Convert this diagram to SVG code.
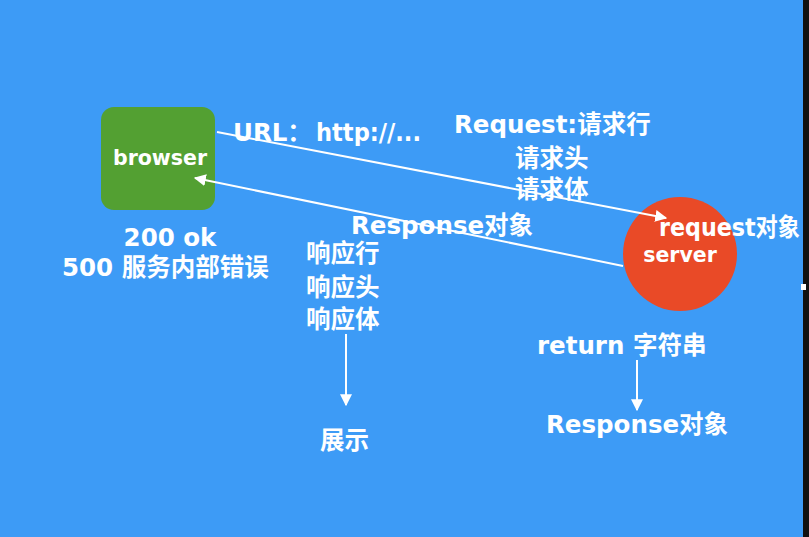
<svg xmlns="http://www.w3.org/2000/svg" width="809" height="537" viewBox="0 0 809 537">
<style>
.t{font-family:"DejaVu Sans","Noto Sans CJK SC",sans-serif;font-weight:bold;fill:#ffffff;font-size:24.5px}
.c{stroke:#ffffff;stroke-width:2;fill:none}
</style>
<defs>
<marker id="ah" viewBox="0 0 10 10" refX="9" refY="5" markerWidth="6" markerHeight="6" orient="auto" markerUnits="strokeWidth">
<path d="M0,0 L10,5 L0,10 z" fill="#ffffff"/>
</marker>
</defs>
<rect width="809" height="537" fill="#3d9bf6"/>
<rect x="803" y="0" width="6" height="537" fill="#111111"/>
<rect x="801" y="284" width="5" height="6" fill="#ffffff"/>
<g id="browser">
<rect x="101" y="107" width="114" height="103" rx="13" fill="#53a032"/>
<text class="t" x="160" y="165" text-anchor="middle" style="font-size:20.5px">browser</text>
</g>
<g id="server">
<circle cx="680" cy="254" r="57" fill="#e94a27"/>
<text class="t" x="680" y="262" text-anchor="middle" style="font-size:20.5px">server</text>
</g>
<g id="connectors">
<line class="c" x1="217" y1="132" x2="666" y2="218" marker-end="url(#ah)"/>
<line class="c" x1="623" y1="266" x2="195" y2="178" marker-end="url(#ah)"/>
<line class="c" x1="346" y1="334" x2="346" y2="405" marker-end="url(#ah)"/>
<line class="c" x1="637" y1="360" x2="637" y2="410" marker-end="url(#ah)"/>
</g>
<g id="labels">
<text class="t" x="233" y="141">URL：</text>
<text class="t" x="316" y="141" textLength="105" lengthAdjust="spacingAndGlyphs">http://...</text>
<text class="t" x="454" y="133">Request:请求行</text>
<text class="t" x="515" y="167">请求头</text>
<text class="t" x="515" y="198">请求体</text>
<text class="t" x="351" y="234">Response对象</text>
<text class="t" x="659" y="236" textLength="141" lengthAdjust="spacingAndGlyphs">request对象</text>
<text class="t" x="170" y="246" text-anchor="middle">200 ok</text>
<text class="t" x="62" y="276">500 服务内部错误</text>
<text class="t" x="306" y="262">响应行</text>
<text class="t" x="306" y="296">响应头</text>
<text class="t" x="306" y="328">响应体</text>
<text class="t" x="320" y="449">展示</text>
<text class="t" x="537" y="354">return</text>
<text class="t" x="633" y="354">字符串</text>
<text class="t" x="546" y="433">Response对象</text>
</g>
</svg>
